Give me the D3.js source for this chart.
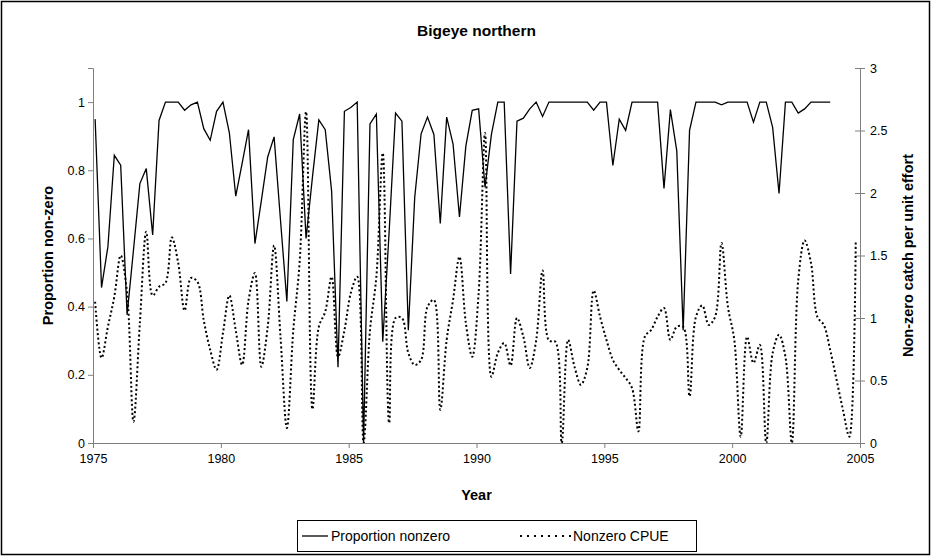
<!DOCTYPE html>
<html>
<head>
<meta charset="utf-8">
<script src="https://cdn.jsdelivr.net/npm/d3@7"></script>
<style>
  body { margin: 0; background: #fff; }
  text { font-family: "Liberation Sans", Arial, sans-serif; }
</style>
</head>
<body>
<div class="container"></div>
<script>
// quarterly samples, first one in Feb 1975
var startYear = 1975;
var proportion = [
  0.95, 0.456, 0.576, 0.844, 0.815, 0.376, 0.566, 0.761, 0.805, 0.61,
  0.946, 1.0, 1.0, 1.0, 0.976, 0.992, 1.0, 0.922, 0.888, 0.973,
  1.0, 0.91, 0.724, 0.82, 0.919, 0.585, 0.71, 0.839, 0.898, 0.654,
  0.415, 0.89, 0.965, 0.6, 0.78, 0.948, 0.919, 0.739, 0.222, 0.973,
  0.984, 1.0, 0.0, 0.936, 0.965, 0.297, 0.62, 0.968, 0.944, 0.331,
  0.72, 0.907, 0.956, 0.905, 0.644, 0.956, 0.877, 0.663, 0.871, 0.976,
  0.98, 0.75, 0.905, 1.0, 1.0, 0.496, 0.944, 0.953, 0.98, 1.0,
  0.958, 1.0, 1.0, 1.0, 1.0, 1.0, 1.0, 1.0, 0.976, 1.0,
  1.0, 0.814, 0.95, 0.917, 1.0, 1.0, 1.0, 1.0, 1.0, 0.747,
  0.978, 0.857, 0.331, 0.917, 1.0, 1.0, 1.0, 1.0, 0.992, 1.0,
  1.0, 1.0, 1.0, 0.941, 1.0, 1.0, 0.926, 0.732, 1.0, 1.0,
  0.968, 0.98, 1.0, 1.0, 1.0, 1.0
];
var cpue = [
  1.13, 0.68, 0.93, 1.17, 1.5, 1.2, 0.17, 0.96, 1.69, 1.18,
  1.25, 1.28, 1.645, 1.44, 1.06, 1.32, 1.29, 0.98, 0.745, 0.586,
  0.88, 1.18, 0.9, 0.625, 1.14, 1.36, 0.61, 0.93, 1.58, 0.85,
  0.12, 0.9, 1.45, 2.65, 0.27, 0.93, 1.05, 1.33, 0.69, 0.9,
  1.2, 1.33, 0.0, 0.9, 1.33, 2.32, 0.16, 1.0, 1.0, 0.72,
  0.625, 0.665, 1.09, 1.145, 0.266, 0.825, 1.145, 1.49, 0.96, 0.69,
  1.2, 2.48, 0.53, 0.72, 0.8, 0.62, 1.0, 0.85, 0.6, 0.82,
  1.38, 0.82, 0.81, 0.0, 0.825, 0.61, 0.466, 0.6, 1.22, 1.01,
  0.825, 0.665, 0.585, 0.52, 0.44, 0.093, 0.85, 0.905, 1.01, 1.08,
  0.825, 0.93, 0.93, 0.373, 1.01, 1.1, 0.945, 1.01, 1.6, 1.09,
  0.825, 0.05, 0.85, 0.64, 0.785, 0.0, 0.72, 0.865, 0.69, 0.0,
  1.3, 1.62, 1.44, 1.01, 0.945, 0.745, 0.506, 0.266, 0.05, 1.62
];
var yearTicks = [1975, 1980, 1985, 1990, 1995, 2000, 2005];
var leftTicks = [0, 0.2, 0.4, 0.6, 0.8, 1];
var rightTicks = [0, 0.5, 1, 1.5, 2, 2.5, 3];

const WIDTH = 934;
const HEIGHT = 557;
const LEFT = 93, RIGHT = 860, TOP = 68, BOTTOM = 443;

var quarterTime = function (i) {
  return startYear + (3 * i + 1) / 12;
};

var translate = function (x, y) {
  return "translate(" + x + "," + y + ")";
};

var svg = d3.select('.container').append('svg')
    .attr('width', WIDTH)
    .attr('height', HEIGHT);

// chart area border
svg.append('rect')
    .attr('x', 1.5).attr('y', 1.5)
    .attr('width', 928).attr('height', 553)
    .attr('fill', 'none').attr('stroke', '#000').attr('stroke-width', 1.5);

var x = d3.scaleLinear().domain([1975, 2005]).range([LEFT, RIGHT]);
var yL = d3.scaleLinear().domain([0, 1.1]).range([BOTTOM, TOP]);
var yR = d3.scaleLinear().domain([0, 3]).range([BOTTOM, TOP]);

var styleAxis = function (g) {
  g.selectAll('path.domain').attr('stroke', '#808080');
  g.selectAll('line').attr('stroke', '#808080');
  g.selectAll('text').attr('fill', '#000').style('font-size', '12.5px');
};

svg.append('g')
    .attr('transform', translate(LEFT, 0))
    .call(d3.axisLeft(yL).tickValues(leftTicks).tickSizeOuter(0).tickSize(5)
      .tickPadding(3).tickFormat(function (d) { return d; }))
    .call(styleAxis);

var rightAxis = svg.append('g')
    .attr('transform', translate(RIGHT, 0))
    .call(d3.axisRight(yR).tickValues(rightTicks).tickSizeOuter(0).tickSize(5)
      .tickPadding(5).tickFormat(function (d) { return d; }))
    .call(styleAxis);
rightAxis.selectAll('.tick line').attr('x1', -5);

svg.append('g')
    .attr('transform', translate(0, BOTTOM))
    .call(d3.axisBottom(x).tickValues(yearTicks).tickSizeOuter(0).tickSize(5)
      .tickPadding(6).tickFormat(d3.format('d')))
    .call(styleAxis);

svg.append('clipPath').attr('id', 'plot')
  .append('rect')
    .attr('x', LEFT).attr('y', TOP - 2)
    .attr('width', RIGHT - LEFT).attr('height', BOTTOM - TOP + 2);

var propLine = d3.line()
    .x(function (d, i) { return x(quarterTime(i)); })
    .y(function (d) { return yL(d); });

var cpueLine = d3.line()
    .curve(d3.curveCatmullRom.alpha(0.5))
    .x(function (d, i) { return x(quarterTime(i)); })
    .y(function (d) { return yR(d); });

svg.append('path')
    .datum(cpue)
    .attr('clip-path', 'url(#plot)')
    .attr('d', cpueLine)
    .attr('fill', 'none')
    .attr('stroke', '#000')
    .attr('stroke-width', 2)
    .attr('stroke-dasharray', '2,2.5');

svg.append('path')
    .datum(proportion)
    .attr('d', propLine)
    .attr('fill', 'none')
    .attr('stroke', '#000')
    .attr('stroke-width', 1.3);

// titles
svg.append('text')
    .attr('x', (LEFT + RIGHT) / 2).attr('y', 36)
    .attr('text-anchor', 'middle')
    .style('font-size', '15.5px').style('font-weight', 'bold')
    .text('Bigeye northern');

svg.append('text')
    .attr('x', (LEFT + RIGHT) / 2).attr('y', 500)
    .attr('text-anchor', 'middle')
    .style('font-size', '14.5px').style('font-weight', 'bold')
    .text('Year');

svg.append('text')
    .attr('transform', translate(53, (TOP + BOTTOM) / 2) + ' rotate(-90)')
    .attr('text-anchor', 'middle')
    .style('font-size', '14.5px').style('font-weight', 'bold')
    .text('Proportion non-zero');

svg.append('text')
    .attr('transform', translate(913, (TOP + BOTTOM) / 2) + ' rotate(-90)')
    .attr('text-anchor', 'middle')
    .style('font-size', '14.5px').style('font-weight', 'bold')
    .text('Non-zero catch per unit effort');

// legend
var legend = svg.append('g').attr('transform', translate(297, 520));
legend.append('rect')
    .attr('x', 0.5).attr('y', 0.5)
    .attr('width', 399).attr('height', 31)
    .attr('fill', '#fff').attr('stroke', '#000');
legend.append('line')
    .attr('x1', 5).attr('x2', 31).attr('y1', 16).attr('y2', 16)
    .attr('stroke', '#000').attr('stroke-width', 1.3);
legend.append('text')
    .attr('x', 34).attr('y', 21)
    .style('font-size', '14px')
    .text('Proportion nonzero');
legend.append('line')
    .attr('x1', 223).attr('x2', 274).attr('y1', 16).attr('y2', 16)
    .attr('stroke', '#000').attr('stroke-width', 2)
    .attr('stroke-dasharray', '2,5');
legend.append('text')
    .attr('x', 276).attr('y', 21)
    .style('font-size', '14px')
    .text('Nonzero CPUE');
</script>
</body>
</html>
